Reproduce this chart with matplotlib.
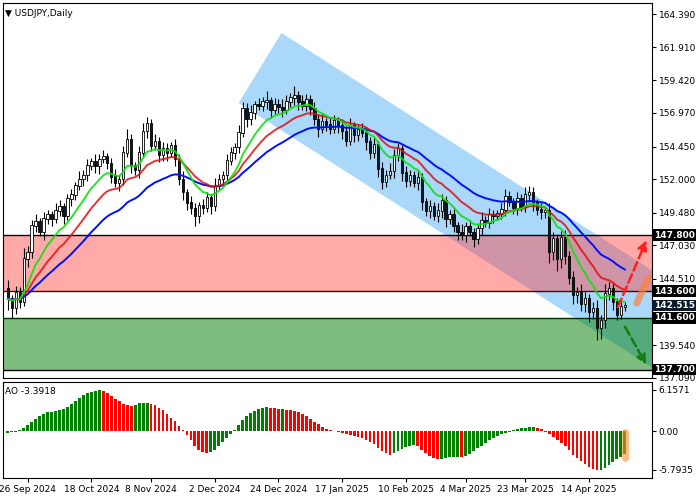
import matplotlib
matplotlib.use("Agg")
import matplotlib.pyplot as plt
import numpy as np
import pandas as pd
from matplotlib.patches import Polygon, FancyArrowPatch

closes = [143.0,142.3,143.5,142.8,146.0,146.5,148.5,148.8,148.0,149.0,
          149.3,149.0,149.6,149.9,149.2,150.5,150.8,151.5,152.0,152.3,
          153.0,153.3,153.0,153.5,153.7,153.2,152.2,151.7,152.0,154.0,
          155.0,153.0,152.7,154.0,155.6,156.2,154.5,154.8,153.8,154.3,
          154.0,154.5,153.5,152.0,151.0,150.2,149.8,149.2,150.0,149.8,
          150.6,150.0,151.5,152.0,152.3,153.4,154.0,154.4,155.5,157.3,
          156.5,157.0,157.6,157.5,157.8,157.9,157.2,157.6,157.4,157.2,
          157.8,158.1,158.3,157.8,157.5,158.0,157.3,156.5,155.8,156.3,
          156.1,155.8,156.4,156.0,155.6,154.9,156.0,155.3,155.7,155.5,
          154.8,154.0,154.6,152.8,151.8,152.3,152.6,153.8,154.3,152.5,
          151.9,152.3,151.7,152.1,150.3,149.6,149.9,149.2,149.6,150.4,
          149.0,149.3,148.5,148.0,147.8,148.4,148.0,147.5,148.3,148.9,
          148.7,149.3,149.2,149.4,149.7,150.7,150.3,149.8,150.5,149.9,
          150.8,151.0,150.2,149.7,149.5,149.6,146.5,147.5,146.0,147.6,
          146.2,144.6,143.3,143.5,142.6,143.0,142.0,142.3,140.8,141.4,
          143.4,143.8,142.8,141.8,142.4,142.5]
opens = [143.8] + closes[:-1]
wick_up = [0.6,0.3,0.5,0.4,0.8,0.5,0.4,0.6,0.3,0.5,0.4,0.3,0.6,0.5,0.3,0.4,0.5,0.3,0.6,0.4,
           0.5,0.3,0.6,0.4,0.5,0.3,0.4,0.6,0.3,0.5,0.8,0.4,0.3,0.5,0.6,0.5,0.3,0.6,0.4,0.5,
           0.4,0.3,0.5,0.4,0.6,0.3,0.5,0.4,0.3,0.5,0.4,0.3,0.6,0.4,0.3,0.5,0.4,0.3,0.6,0.5,
           0.4,0.6,0.3,0.5,0.4,0.7,0.3,0.5,0.4,0.6,0.5,0.4,0.7,0.3,0.5,0.4,0.3,0.5,0.4,0.6,
           0.3,0.5,0.4,0.3,0.5,0.4,0.6,0.3,0.4,0.5,0.3,0.4,0.6,0.3,0.5,0.4,0.6,0.5,0.4,0.3,
           0.5,0.4,0.3,0.6,0.4,0.3,0.5,0.4,0.6,0.5,0.3,0.4,0.5,0.3,0.6,0.4,0.5,0.3,0.4,0.6,
           0.3,0.5,0.4,0.3,0.5,0.6,0.4,0.3,0.5,0.4,0.6,0.5,0.4,0.3,0.5,0.4,0.6,0.5,0.4,0.5,
           0.6,0.4,0.5,0.4,0.6,0.5,0.4,0.5,0.6,0.4,0.7,0.5,0.4,0.3,0.4,0.3]
wick_dn = [0.8,0.7,0.4,0.5,0.3,0.6,0.4,0.5,0.3,0.6,0.4,0.5,0.3,0.4,0.6,0.3,0.5,0.4,0.3,0.5,
           0.4,0.3,0.5,0.6,0.3,0.4,0.5,0.3,0.6,0.4,0.3,0.5,0.4,0.6,0.3,0.5,0.4,0.3,0.5,0.4,
           0.6,0.3,0.5,0.4,0.6,0.5,0.4,0.7,0.5,0.4,0.3,0.6,0.4,0.3,0.5,0.4,0.3,0.5,0.4,0.3,
           0.6,0.4,0.5,0.3,0.4,0.5,0.6,0.3,0.4,0.5,0.3,0.4,0.5,0.6,0.3,0.4,0.5,0.4,0.6,0.3,
           0.5,0.4,0.3,0.5,0.6,0.4,0.3,0.5,0.4,0.3,0.6,0.5,0.4,0.6,0.5,0.4,0.3,0.5,0.4,0.6,
           0.5,0.4,0.3,0.5,0.6,0.4,0.5,0.3,0.4,0.5,0.6,0.4,0.5,0.6,0.4,0.5,0.3,0.6,0.4,0.5,
           0.3,0.4,0.5,0.3,0.4,0.5,0.3,0.4,0.5,0.3,0.4,0.5,0.6,0.4,0.5,0.4,0.8,0.6,0.9,0.7,
           0.6,0.5,0.7,0.6,0.5,0.6,0.7,0.5,0.9,0.8,0.6,0.5,0.6,0.4,0.3,0.3]
ao_values = [-0.3,-0.2,-0.1,0.2,0.5, 0.9,1.4,1.8,2.2,2.6, 2.8,2.9,3.0,3.2,3.3,
             3.6,4.0,4.5,4.9,5.3, 5.6,5.8,6.0,6.1,5.9, 5.6,5.2,4.8,4.4,4.0,
             3.9,3.7,3.8,4.1,4.2, 4.2,4.0,3.8,3.5,3.1, 2.6,2.0,1.5,0.8,0.2,
             -0.6,-1.4,-2.2,-2.8,-3.2, -3.3,-3.1,-2.8,-2.3,-1.7, -1.0,-0.4,0.2,0.9,1.6,
             2.2,2.7,3.0,3.3,3.5, 3.6,3.5,3.4,3.3,3.3, 3.2,3.1,3.0,2.8,2.5,
             2.2,1.8,1.4,1.0,0.6, 0.3,0.1,0.0,-0.2,-0.3, -0.4,-0.6,-0.7,-0.9,-1.1,
             -1.4,-1.7,-2.0,-2.5,-3.0, -3.3,-3.5,-3.3,-3.0,-2.7, -2.4,-2.2,-2.1,-2.3,-2.8,
             -3.3,-3.7,-4.0,-4.2,-4.1, -4.0,-3.9,-3.8,-3.8,-3.9, -3.7,-3.4,-3.0,-2.6,-2.2,
             -1.8,-1.4,-1.0,-0.7,-0.5, -0.3,-0.1,0.1,0.3,0.4, 0.5,0.6,0.6,0.5,0.3,
             -0.2,-0.5,-0.9,-1.3,-1.8, -2.3,-2.9,-3.5,-4.0,-4.5, -4.9,-5.3,-5.6,-5.8,-5.8,
             -5.5,-5.1,-4.6,-4.2,-3.8,-3.4]

date_labels = ["26 Sep 2024","18 Oct 2024","8 Nov 2024","2 Dec 2024","24 Dec 2024",
               "17 Jan 2025","10 Feb 2025","4 Mar 2025","23 Mar 2025","14 Apr 2025"]
date_idx = [5,21,36,52,68,84,100,115,130,146]
price_ticks = [164.390,161.910,159.420,156.970,154.450,152.000,149.480,147.030,144.510,139.540,137.090]
levels = [147.800,143.600,141.600,137.700]
current_price = 142.515
red_zone = (143.6,147.8)
green_zone = (137.7,141.6)
channel_x = [58, 68.75, 170, 170]
channel_y = [157.72, 162.98, 143.6, 136.3]
ao_ticks = [6.1571, 0.0, -5.7935]
ao_last = -3.3918

c = np.array(closes); o = np.array(opens)
h = np.maximum(o, c) + np.array(wick_up)
l = np.minimum(o, c) - np.array(wick_dn)
n = len(c); x = np.arange(n)
s = pd.Series(c)
ma_g = s.ewm(span=10, adjust=False).mean()
ma_r = s.ewm(span=18, adjust=False).mean()
ma_b = s.ewm(span=32, adjust=False).mean()
ao = np.array(ao_values)

fig = plt.figure(figsize=(7, 5), dpi=100)
ax = fig.add_axes([0.004, 0.244, 0.927, 0.75])
ax2 = fig.add_axes([0.004, 0.044, 0.927, 0.192])
xl = (-1.25, 161.75)
for a in (ax, ax2):
    a.set_xlim(*xl)
    for sp in a.spines.values():
        sp.set_color('black'); sp.set_linewidth(0.8)
ax.set_ylim(137.07, 165.23)

ax.add_patch(Polygon(list(zip(channel_x, channel_y)), closed=True, color='#AAD8FA', lw=0, zorder=1))
ax.axhspan(*red_zone, color=(1.0, 0.26, 0.26), alpha=0.45, lw=0, zorder=2)
ax.axhspan(*green_zone, color=(0.0, 0.49, 0.0), alpha=0.5, lw=0, zorder=2)
for lv, col in zip(levels, ['black', '#5a0000', '#003000', 'black']):
    ax.axhline(lv, color=col, lw=1, zorder=3)

for i in range(n):
    bull = c[i] >= o[i]
    ax.vlines(x[i], l[i], h[i], color='black', lw=0.8, zorder=4)
    ax.bar(x[i], abs(c[i]-o[i]) + 0.05, bottom=min(o[i], c[i]), width=0.6,
           color='white' if bull else '#0a1a2a', edgecolor='black', lw=0.6, zorder=5)
ax.plot(x, ma_b, color='#0010ff', lw=1.4, zorder=6)
ax.plot(x, ma_r, color='#e01010', lw=1.4, alpha=0.85, zorder=6)
ax.plot(x, ma_g, color='#10e010', lw=1.4, alpha=0.9, zorder=6)

ax.add_patch(FancyArrowPatch((153, 142.2), (160.7, 147.6), arrowstyle='-|>', mutation_scale=14,
                             color='#ff2020', lw=1.8, ls='--', zorder=7))
ax.add_patch(FancyArrowPatch((154.7, 141.1), (160.7, 137.9), arrowstyle='-|>', mutation_scale=14,
                             color='#108010', lw=1.8, ls='--', zorder=7))
ax.plot([158, 161], [142.7, 144.6], color='#ff8030', lw=5, alpha=0.65, solid_capstyle='round', zorder=7)

ax.yaxis.tick_right()
ax.set_yticks(price_ticks)
ax.set_yticklabels([f"{t:.3f}" for t in price_ticks], fontsize=6.5)
ax.tick_params(axis='y', length=3, pad=2)
ax.set_xticks([])
for lv in levels + [current_price]:
    ax.text(1.003, (lv - 137.07) / (165.23 - 137.07), f"{lv:.3f}", transform=ax.transAxes,
            fontsize=6.5, color='white', fontweight='bold', va='center', ha='left',
            bbox=dict(boxstyle='square,pad=0.15', fc='black' if lv != current_price else '#0a1a2a', ec='none'))
ax.text(0.004, 0.985, "\u25BC USDJPY,Daily", transform=ax.transAxes, fontsize=6.5, va='top')

cols = ['#008000' if (i == 0 or ao[i] >= ao[i-1]) else '#ff0000' for i in range(n)]
ax2.bar(x, ao, width=0.7, color=cols, zorder=3)
ax2.set_ylim(-7.0, 7.3)
ax2.yaxis.tick_right()
ax2.set_yticks(ao_ticks)
ax2.set_yticklabels(["6.1571", "0.00", "-5.7935"], fontsize=6.5)
ax2.tick_params(axis='y', length=3, pad=2)
ax2.plot([x[-1], x[-1]], [-4.0, -0.2], color='#ff9030', lw=5, alpha=0.6, solid_capstyle='round', zorder=4)
ax2.text(0.004, 0.95, f"AO {ao_last:.4f}", transform=ax2.transAxes, fontsize=6.5, va='top')
ax2.set_xticks(date_idx)
ax2.set_xticklabels(date_labels, fontsize=6.5)
ax2.tick_params(axis='x', length=3, pad=2)

fig.savefig("out.png", dpi=100)
